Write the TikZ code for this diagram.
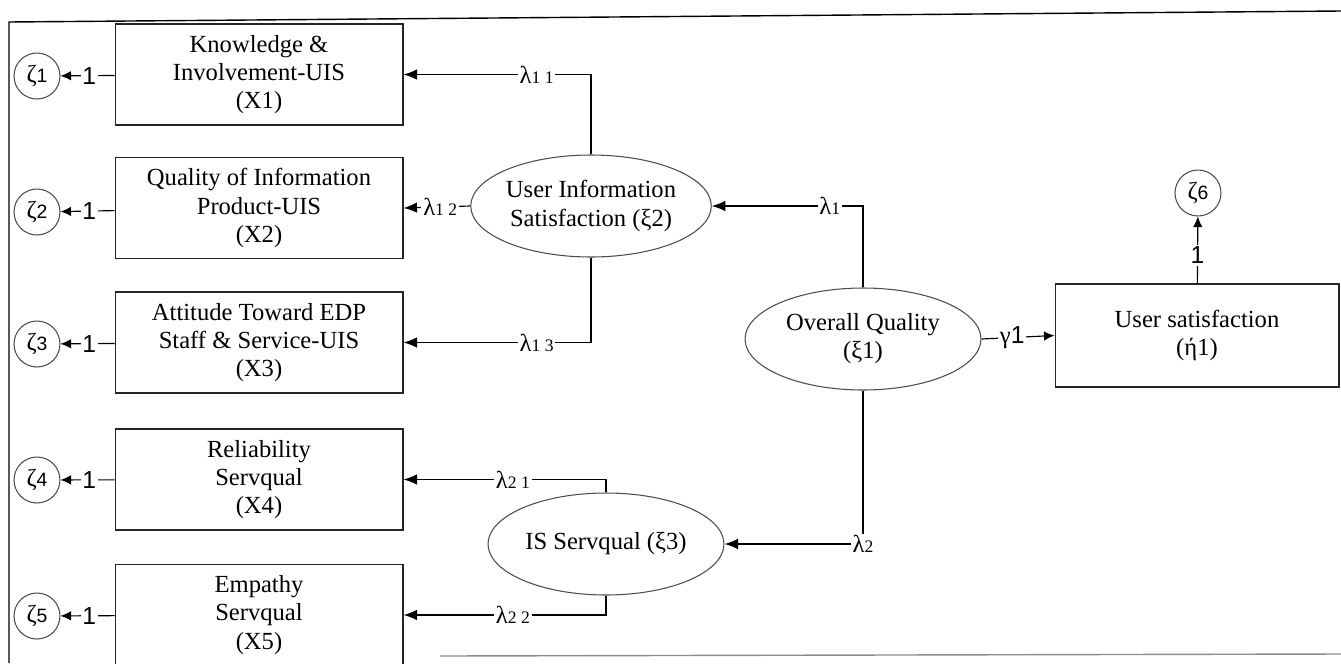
\documentclass[tikz,border=0pt]{standalone}
\usepackage{fontspec}
\setmainfont{Liberation Serif}
\newfontfamily\sansf{Liberation Sans}
\usetikzlibrary{shapes.geometric,arrows.meta}
\newcommand{\smalldig}[1]{{\fontsize{10}{10}\selectfont #1}}
\newcommand{\zt}[1]{ζ{\sansf\fontsize{11}{11}\selectfont #1}}
\begin{document}
\begin{tikzpicture}[x=0.02cm,y=-0.02cm,
  font=\fontsize{14}{16}\selectfont,
  obs/.style={draw=black!85,line width=0.6pt,minimum width=5.76cm,minimum height=2.02cm,align=center,inner sep=0pt},
  lat/.style={draw=black!70,ellipse,line width=0.6pt,minimum width=4.72cm,minimum height=2.04cm,align=center,inner sep=0pt},
  err/.style={draw=black!70,circle,line width=0.6pt,minimum size=0.92cm,inner sep=0pt},
  conn/.style={line width=0.65pt,-{Latex[length=2.7mm,width=2.1mm]}},
  econn/.style={line width=0.65pt,-{Latex[length=2.1mm,width=1.9mm]}},
  lab/.style={fill=white,inner sep=1pt},
  one/.style={fill=white,inner sep=1pt,font=\sansf\fontsize{14}{16}\selectfont}]
\useasboundingbox (0,0) rectangle (1341,663);
\clip (0,0) rectangle (1341,663);
% frame
\draw[line width=0.8pt] (1341,11) -- (9,22) -- (9,663);
\draw[line width=0.8pt,black!45] (440,656) -- (1341,654);
% observed boxes
\node[obs] (x1) at (259,74.5) {Knowledge \&\\Involvement-UIS\\(X1)};
\node[obs] (x2) at (259,208) {Quality of Information\\Product-UIS\\(X2)};
\node[obs] (x3) at (259,342.5) {Attitude Toward EDP\\Staff \& Service-UIS\\(X3)};
\node[obs] (x4) at (259,479.5) {Reliability\\Servqual\\(X4)};
\node[obs] (x5) at (259,615) {Empathy\\Servqual\\(X5)};
% error circles
\node[err] (z1) at (37,76) {\zt{1}};
\node[err] (z2) at (37,212) {\zt{2}};
\node[err] (z3) at (37,344) {\zt{3}};
\node[err] (z4) at (37,480) {\zt{4}};
\node[err] (z5) at (37,616) {\zt{5}};
% latent ellipses
\node[lat] (uis) at (591,206) {User Information\\Satisfaction (ξ2)};
\node[lat] (isq) at (606,544) {IS Servqual (ξ3)};
\node[lat] (oq) at (863,339) {Overall Quality\\(ξ1)};
% user satisfaction
\node[obs,minimum width=5.68cm,minimum height=2.06cm] (us) at (1197,335.5) {User satisfaction\\(ή1)};
\node[err] (z6) at (1198,193) {\zt{6}};
% error arrows
\foreach \i in {1,...,5}{
  \draw[econn] (x\i) -- node[one,pos=0.47]{1} (z\i);
}
\draw[econn] (us) -- node[one,pos=0.42]{1} (z6);
% loadings
\draw[conn] (uis.north) |- node[lab,pos=0.645]{λ\smalldig{1 1}} (x1.east);
\draw[conn] (uis.west) -- node[lab,pos=0.45]{λ\smalldig{1 2}} (x2.east);
\draw[conn] (uis.south) |- node[lab,pos=0.645]{λ\smalldig{1 3}} (x3.east);
\draw[conn] (isq.north) |- node[lab,pos=0.73]{λ\smalldig{2 1}} (x4.east);
\draw[conn] (isq.south) |- node[lab,pos=0.73]{λ\smalldig{2 2}} (x5.east);
\draw[conn] (oq.north) |- node[lab,pos=0.61]{λ\smalldig{1}} (uis.east);
\draw[conn] (oq.south) |- node[lab,pos=0.5]{λ\smalldig{2}} (isq.east);
\draw[econn] (oq.east) -- node[lab,pos=0.42]{γ{\sansf 1}} (us.west);
\end{tikzpicture}
\end{document}
